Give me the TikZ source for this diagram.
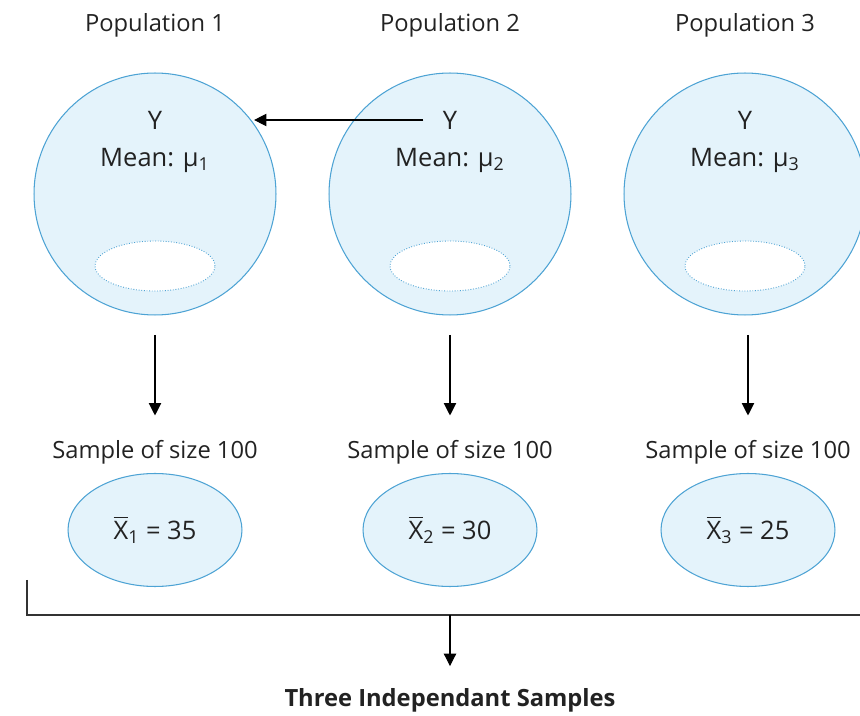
\documentclass[tikz,border=0pt]{standalone}
\usepackage{fontspec}
\setmainfont{Open Sans}
\usepackage{amsmath}
\usetikzlibrary{positioning, arrows.meta, shapes.geometric}
\definecolor{popFill}{HTML}{E4F3FB}
\definecolor{popLine}{HTML}{4DA3D4}
\definecolor{nInk}{HTML}{222222}
\tikzset{
  popcircle/.style={circle, draw=popLine, fill=popFill, line width=0.6pt,
    minimum size=4.84cm, inner sep=0pt, outer sep=0pt},
  samphole/.style={ellipse, draw=popLine, densely dotted, fill=white, line width=0.5pt,
    minimum width=2.4cm, minimum height=1cm, inner sep=0pt},
  sampoval/.style={ellipse, draw=popLine, fill=popFill, line width=0.6pt,
    minimum width=3.48cm, minimum height=2.26cm, inner sep=0pt, outer sep=0pt,
    font=\fontsize{14.5}{16}\selectfont, text=nInk},
  poptitle/.style={font=\fontsize{13.5}{15}\selectfont, text=nInk, inner sep=1pt},
  poptext/.style={font=\fontsize{14.5}{16}\selectfont, text=nInk, inner sep=1pt},
  flowarrow/.style={-{Triangle[length=7pt,width=7pt]}, line width=0.6pt, black},
  bracketline/.style={line width=0.6pt, black!80},
}

\begin{document}
\begin{tikzpicture}[x=0.02cm, y=-0.02cm]
  \useasboundingbox (0,0) rectangle (860,716);
  % populations and their samples
  \foreach \i/\x/\sx/\m in {1/155/155/35, 2/450/450/30, 3/745/748/25} {
    \node[poptitle] (ptitle\i) at (\x,25) {Population \i};
    \node[popcircle] (pop\i) at (\x,194) {};
    \node[poptext] (ylab\i) at (\x,120) {Y};
    \node[poptext] (mean\i) at (\x,160) {Mean: μ\textsubscript{\i}};
    \node[samphole] (hole\i) at (\x,266) {};
    \node[poptitle] (stitle\i) at (\sx,452) {Sample of size 100};
    \node[sampoval] (samp\i) at (\sx,530) {$\overline{\text{X}}$\textsubscript{\i} = \m};
    \draw[flowarrow, shorten <=0.4cm, shorten >=0.45cm] (pop\i.south -| stitle\i) -- (stitle\i.north);
  }
  \draw[flowarrow] ([xshift=-0.35cm]ylab2.west) -- (pop1.35 |- ylab2.west);
  % joining bracket
  \coordinate (brktop) at (27,580);
  \coordinate (brkcorner) at (27,615);
  \coordinate (brkend) at (860,615);
  \coordinate (joint) at (450,615);
  \node[poptitle, font=\fontsize{13.5}{15}\selectfont\bfseries] (indep) at (450,700) {Three Independant Samples};
  \draw[bracketline] (brktop) -- (brkcorner) -- (brkend);
  \draw[flowarrow, shorten >=0.4cm] (joint) -- (indep.north);
\end{tikzpicture}
\end{document}
